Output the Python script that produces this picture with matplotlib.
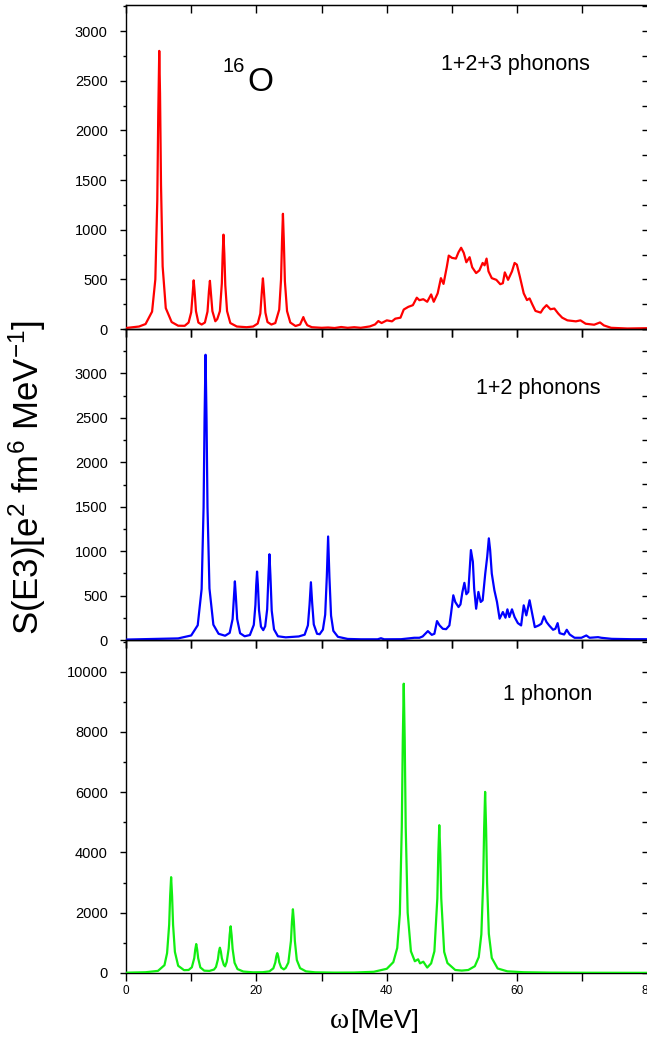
import matplotlib
matplotlib.use("Agg")
import matplotlib.pyplot as plt
from matplotlib.ticker import MultipleLocator, NullFormatter, FixedLocator

plt.rcParams['font.family'] = ['Liberation Sans', 'DejaVu Sans']
plt.rcParams['mathtext.fontset'] = 'custom'
plt.rcParams['mathtext.rm'] = 'Liberation Sans'
plt.rcParams['mathtext.it'] = 'Liberation Sans:italic'
plt.rcParams['mathtext.bf'] = 'Liberation Sans:bold'

# ---------------- data ----------------
# 1+2+3 phonons (red)
omega_top = [0, 2, 3, 4, 4.5, 4.8, 4.95, 5.1, 5.22, 5.37,
             5.62, 6.1, 7, 8, 9, 9.6, 10.0, 10.2, 10.38, 10.53,
             10.73, 11.1, 11.6, 12.1, 12.5, 12.72, 12.87, 13.0, 13.25, 13.7,
             14.0, 14.4, 14.7, 14.82, 14.95, 15.08, 15.23, 15.5, 16.0, 17,
             18.5, 19.5, 20.2, 20.6, 20.85, 21.0, 21.13, 21.38, 21.7, 22.3,
             22.9, 23.5, 23.78, 23.93, 24.07, 24.21, 24.37, 24.7, 25.2, 26.0,
             26.7, 27.0, 27.2, 27.4, 27.8, 28.5, 30, 31, 32, 33,
             34, 35, 36, 37.4, 38.2, 38.7, 39.2, 40, 40.8, 41.3,
             42.1, 42.6, 43.3, 44.0, 44.6, 45.0, 45.6, 46.2, 46.8, 47.2,
             47.8, 48.3, 48.7, 49.2, 49.5, 50.0, 50.6, 51.0, 51.4, 51.8,
             52.2, 52.7, 53.1, 53.7, 54.2, 54.7, 55.0, 55.3, 55.6, 56.1,
             56.8, 57.4, 57.8, 58.1, 58.6, 59.2, 59.6, 59.95, 60.4, 61.0,
             61.5, 61.9, 62.3, 62.8, 63.6, 64.0, 64.5, 65.1, 65.7, 66.3,
             66.9, 67.7, 69.0, 69.7, 70.5, 71.8, 72.7, 73.3, 74.4, 76.9, 80]
s_top = [10, 25, 50, 175, 500, 1300, 2180, 2800, 2370, 1450,
         630, 210, 70, 33, 32, 65, 168, 340, 490, 375,
         180, 65, 45, 65, 175, 380, 485, 385, 180, 78,
         100, 180, 460, 740, 950, 760, 440, 180, 60, 25,
         18, 25, 55, 155, 390, 510, 400, 165, 70, 45,
         60, 195, 500, 885, 1160, 880, 480, 180, 65, 30,
         45, 90, 120, 85, 38, 18, 12, 15, 10, 20,
         12, 18, 12, 26, 46, 80, 60, 87, 77, 104,
         114, 196, 223, 240, 315, 290, 300, 274, 348, 274,
         359, 512, 454, 624, 739, 716, 709, 773, 818, 767,
         672, 723, 621, 563, 590, 665, 641, 709, 580, 512,
         495, 451, 461, 570, 495, 580, 665, 648, 529, 359,
         291, 308, 250, 182, 165, 206, 240, 199, 206, 155,
         114, 87, 77, 87, 53, 43, 66, 36, 12, 5, 8]

# 1+2 phonons (blue)
omega_mid = [0, 3, 6, 8, 10, 11, 11.6, 11.9, 12.05, 12.2,
             12.35, 12.5, 12.8, 13.4, 14.2, 15.2, 15.9, 16.35, 16.55, 16.7,
             16.85, 17.05, 17.5, 18.2, 19.0, 19.6, 19.85, 19.97, 20.1, 20.23,
             20.4, 20.7, 21.05, 21.35, 21.65, 21.85, 22.0, 22.15, 22.35, 22.7,
             23.3, 24.5, 25.5, 26.5, 27.4, 27.9, 28.15, 28.36, 28.55, 28.8,
             29.3, 29.7, 30.2, 30.55, 30.8, 31.0, 31.2, 31.45, 31.8, 32.5,
             34, 36, 38.6, 39.1, 39.6, 42.2, 44.2, 45.0, 45.5, 46.3,
             46.9, 47.3, 47.7, 48.1, 48.6, 49.1, 49.6, 49.85, 50.2, 50.5,
             51.0, 51.3, 51.6, 51.9, 52.2, 52.5, 52.9, 53.2, 53.4, 53.7,
             54.05, 54.4, 54.7, 55.1, 55.4, 55.65, 55.85, 56.1, 56.5, 56.9,
             57.3, 57.8, 58.2, 58.5, 58.8, 59.2, 59.6, 60.1, 60.6, 61.0,
             61.4, 61.9, 62.3, 62.7, 63.3, 63.7, 64.1, 64.5, 64.9, 65.5,
             65.85, 66.2, 66.5, 67.2, 67.6, 68.05, 68.8, 69.85, 70.6, 71.1,
             72.4, 72.9, 74.5, 77.5, 80]
s_mid = [5, 10, 14, 18, 51, 166, 574, 1493, 2494, 3210,
         2494, 1493, 580, 172, 70, 48, 80, 235, 490, 660,
         490, 235, 76, 42, 56, 170, 395, 615, 770, 620,
         335, 150, 111, 155, 345, 725, 965, 725, 330, 120,
         42, 30, 35, 40, 60, 165, 395, 650, 420, 175,
         70, 65, 117, 285, 715, 1165, 707, 274, 103, 36,
         12, 8, 8, 20, 8, 9, 25, 25, 40, 100,
         58, 70, 213, 164, 126, 122, 164, 296, 503, 428,
         371, 401, 541, 643, 515, 541, 1012, 880, 579, 352,
         541, 428, 447, 748, 937, 1144, 1012, 748, 560, 428,
         240, 315, 251, 345, 258, 345, 258, 190, 164, 390,
         277, 447, 296, 145, 164, 183, 266, 202, 164, 115,
         126, 190, 77, 62, 115, 62, 25, 25, 51, 25,
         32, 25, 13, 9, 9]

# 1 phonon (green)
omega_bot = [0, 3, 4.9, 5.9, 6.3, 6.62, 6.77, 6.92, 7.07, 7.22,
             7.5, 8.0, 8.9, 9.6, 10.1, 10.47, 10.62, 10.77, 10.92, 11.07,
             11.4, 12.0, 12.8, 13.5, 13.8, 14.1, 14.25, 14.4, 14.55, 14.7,
             15.0, 15.2, 15.45, 15.75, 15.9, 16.05, 16.2, 16.35, 16.65, 17.1,
             18.0, 19.5, 21.0, 22.0, 22.6, 22.9, 23.05, 23.2, 23.35, 23.5,
             23.8, 24.2, 24.5, 24.9, 25.3, 25.45, 25.6, 25.75, 25.9, 26.2,
             26.7, 27.6, 29, 32, 35, 38, 40, 41, 41.6, 42.0,
             42.3, 42.45, 42.6, 42.75, 42.9, 43.2, 43.7, 44.3, 44.8, 45.1,
             45.6, 46.2, 46.8, 47.3, 47.75, 47.9, 48.05, 48.2, 48.35, 48.8,
             49.3, 50.5, 51.5, 52.5, 53.5, 54.1, 54.5, 54.78, 54.93, 55.08,
             55.23, 55.38, 55.65, 56.1, 57, 58.5, 61, 65, 70, 80]
s_bot = [10, 25, 70, 260, 660, 1600, 2550, 3180, 2550, 1600,
         700, 240, 95, 100, 190, 495, 775, 960, 775, 490,
         185, 77, 69, 115, 200, 455, 710, 840, 710, 490,
         270, 220, 370, 815, 1270, 1550, 1250, 800, 340, 130,
         48, 22, 27, 55, 155, 350, 550, 660, 555, 360,
         180, 120, 170, 345, 1065, 1700, 2115, 1700, 1060, 430,
         160, 55, 22, 12, 15, 40, 140, 360, 830, 1960,
         4850, 7700, 9600, 7700, 4850, 2000, 720, 390, 455, 320,
         375, 180, 320, 720, 2480, 3950, 4905, 3950, 2480, 700,
         330, 100, 80, 100, 225, 525, 1280, 3000, 4800, 6010,
         4800, 3000, 1300, 500, 150, 55, 25, 12, 8, 5]

panel_labels = ["1+2+3 phonons", "1+2 phonons", "1 phonon"]
x_tick_values = [0, 10, 20, 30, 40, 50, 60, 70, 80]
x_tick_labels = ["0", "", "20", "", "40", "", "60", "", "80"]
y_ticks_top = [0, 500, 1000, 1500, 2000, 2500, 3000]
y_ticks_mid = [0, 500, 1000, 1500, 2000, 2500, 3000]
y_ticks_bot = [0, 2000, 4000, 6000, 8000, 10000]

# ---------------- figure ----------------
W, H = 647, 1039
fig = plt.figure(figsize=(W / 100, H / 100), dpi=100)


def add_ax(l, t, r, b):
    return fig.add_axes([l / W, 1 - b / H, (r - l) / W, (b - t) / H])


def fx(x):
    return x / W


def fy(y):
    return 1 - y / H


panels = [
    # x, y, colour, top px, bottom px, ymax, major ticks, minor, right-step
    (omega_top, s_top, '#ff0000', 5, 329, 3262, y_ticks_top, 250, 250),
    (omega_mid, s_mid, '#0000ff', 329, 640, 3500, y_ticks_mid, 250, 250),
    (omega_bot, s_bot, '#11ee11', 640, 973, 11050, y_ticks_bot, 1000, 1000),
]

axes = []
for i, (xs, ys, col, t, b, ymax, yt, mnr, rstep) in enumerate(panels):
    ax = add_ax(126, t, 647.6, b)
    ax.plot(xs, ys, color=col, lw=1.6, solid_joinstyle='round', zorder=3)
    ax.set_xlim(0, 80)
    ax.set_ylim(0, ymax)
    ax.set_xticks(x_tick_values)
    if i == 2:
        ax.set_xticklabels(x_tick_labels)
    else:
        ax.set_xticklabels([])
    ax.yaxis.set_major_locator(FixedLocator(yt))
    ax.yaxis.set_minor_locator(MultipleLocator(mnr))
    ax.tick_params(axis='y', which='major', direction='out', length=4.3,
                   width=1, labelsize=10.5, pad=8.8, colors='black')
    ax.tick_params(axis='y', which='minor', direction='out', length=2.4,
                   width=1)
    ax.tick_params(axis='x', which='major', direction='out', length=5.8,
                   width=1, labelsize=8.5, pad=3)
    for sp in ax.spines.values():
        sp.set_linewidth(1.0)
    ax.patch.set_alpha(0)

    sec_y = ax.secondary_yaxis('right')
    sec_y.yaxis.set_major_locator(MultipleLocator(rstep))
    sec_y.yaxis.set_major_formatter(NullFormatter())
    sec_y.tick_params(axis='y', direction='in', length=4.3, width=1)

    sec_x = ax.secondary_xaxis('top')
    sec_x.set_xticks(x_tick_values)
    sec_x.xaxis.set_major_formatter(NullFormatter())
    sec_x.tick_params(axis='x', direction='in', length=5.5, width=1)
    axes.append(ax)

# panel annotations
fig.text(fx(441), fy(70), panel_labels[0], fontsize=15.5, va='baseline', ha='left')
fig.text(fx(476), fy(394), panel_labels[1], fontsize=15.5, va='baseline', ha='left')
fig.text(fx(503), fy(700), panel_labels[2], fontsize=15.5, va='baseline', ha='left')

# nucleus label
fig.text(fx(222), fy(72), "16", fontsize=14.5, va='baseline', ha='left')
fig.text(fx(247), fy(91), "O", fontsize=24, va='baseline', ha='left')

# axis titles
fig.text(fx(330), fy(1028), "ω", family=['Liberation Serif', 'DejaVu Serif'],
         fontsize=21, va='baseline', ha='left')
fig.text(fx(350), fy(1028), "[MeV]", fontsize=19, va='baseline', ha='left')
fig.text(fx(39), fy(477), r"S(E3)[e$^2$ fm$^6$ MeV$^{-1}$]", fontsize=25,
         rotation=90, rotation_mode='anchor', ha='center', va='baseline')

fig.savefig("out.png", dpi=100)
